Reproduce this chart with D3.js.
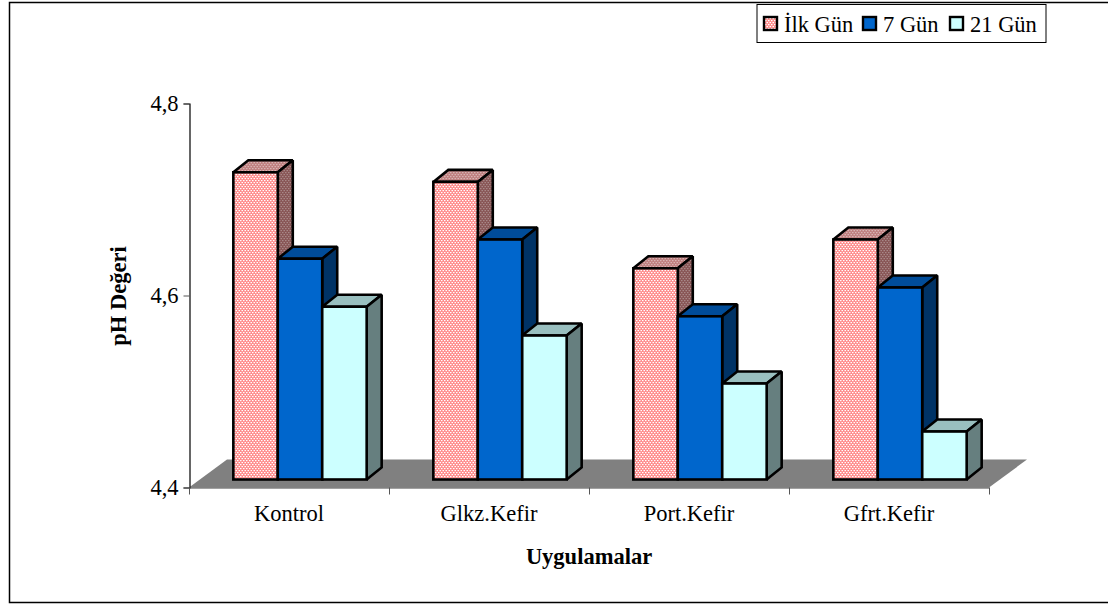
<!DOCTYPE html>
<html>
<head>
<meta charset="utf-8">
<script src="https://cdn.jsdelivr.net/npm/d3@7"></script>
<style>
  html, body { margin: 0; padding: 0; background: #fff; }
  svg { display: block; }
  text { font-family: "Liberation Serif", serif; fill: #000; }
</style>
</head>
<body>
<svg id="chart" width="1108" height="608"></svg>
<script>
const categories = ["Kontrol", "Glkz.Kefir", "Port.Kefir", "Gfrt.Kefir"];
const seriesNames = ["İlk Gün", "7 Gün", "21 Gün"];
const ilkGun = [4.72, 4.71, 4.62, 4.65];
const gun7 = [4.63, 4.65, 4.57, 4.60];
const gun21 = [4.58, 4.55, 4.50, 4.45];
const yTicks = [4.4, 4.6, 4.8];

const allValues = [ilkGun, gun7, gun21];
const svg = d3.select("#chart");
const fontSize = "22.5px";

// frame, open on the right like the reference
svg.append("path")
  .attr("d", "M1108,2.5H9.5V602.5H1108")
  .attr("fill", "none").attr("stroke", "#000").attr("stroke-width", 1.5);

const plotL = 189, plotR = 989, plotT = 103.5, plotB = 487.5;
const depthX = 15, depthY = 12;   // side/top faces of the bars
const floorX = 38, floorY = 28;   // floor depth
const frontX = 12, frontY = 8;    // bars sit this far back on the floor

const x = d3.scaleBand().domain(categories).range([plotL, plotR]);
const y = d3.scaleLinear().domain([4.4, 4.8]).range([plotB, plotT]);
const inner = d3.scaleBand().domain(seriesNames)
  .range([0, x.bandwidth()]).paddingInner(0).paddingOuter(0.75);

// pink dither
const defs = svg.append("defs");
function dither(id, bg, fg) {
  const p = defs.append("pattern").attr("id", id)
    .attr("patternUnits", "userSpaceOnUse").attr("width", 3).attr("height", 4);
  p.append("rect").attr("width", 3).attr("height", 4).attr("fill", bg);
  p.append("rect").attr("x", 0).attr("y", 0).attr("width", 1.5).attr("height", 1.2).attr("fill", fg);
  p.append("rect").attr("x", 1.5).attr("y", 2).attr("width", 1.5).attr("height", 1.2).attr("fill", fg);
}
dither("pinkFront", "#ff8c8c", "#ffffff");
dither("pinkTop", "#bf7f7f", "#d8b4b4");
dither("pinkSide", "#885555", "#a88888");

const fills = [
  { front: "url(#pinkFront)", top: "url(#pinkTop)", side: "url(#pinkSide)" },
  { front: "#0066cc", top: "#004c99", side: "#003366" },
  { front: "#ccffff", top: "#99bfbf", side: "#667f7f" }
];

// floor
svg.append("path")
  .attr("d", d3.line()([[plotL, plotB], [plotR, plotB], [plotR + floorX, plotB - floorY], [plotL + floorX, plotB - floorY]]) + "Z")
  .attr("fill", "#808080");

// axes
const yAxis = d3.axisLeft(y).tickValues(yTicks).tickSize(6).tickPadding(5)
  .tickFormat(d => d3.format(".1f")(d).replace(".", ","));
const gy = svg.append("g").attr("transform", `translate(${plotL + 0.5},0)`).call(yAxis);
gy.select(".domain").attr("stroke", "#000").attr("stroke-width", 1.2);
gy.selectAll(".tick line").attr("stroke", "#555");
gy.selectAll("text").style("font-size", fontSize).style("font-family", '"Liberation Serif", serif');

const xAxis = d3.axisBottom(x).tickSize(0).tickPadding(18);
const gx = svg.append("g").attr("transform", `translate(0,${plotB})`).call(xAxis);
gx.select(".domain").attr("stroke", "#444").attr("stroke-width", 1.2);
gx.selectAll("text").style("font-size", fontSize).style("font-family", '"Liberation Serif", serif');
svg.append("g").selectAll("line")
  .data(categories.map(c => x(c)).concat([plotR])).join("line")
  .attr("x1", d => d + 0.5).attr("x2", d => d + 0.5)
  .attr("y1", plotB).attr("y2", plotB + 7)
  .attr("stroke", "#555");

// bars
const barW = inner.bandwidth();
categories.forEach((c, ci) => {
  seriesNames.forEach((s, si) => {
    const x0 = x(c) + inner(s) + frontX - 1;
    const x1 = x0 + barW;
    const y0 = y(allValues[si][ci]) - frontY;
    const y1 = plotB - frontY;
    const g = svg.append("g")
      .attr("stroke", "#000").attr("stroke-width", 2.6)
      .attr("stroke-linejoin", "miter").attr("stroke-miterlimit", 1.5);
    g.append("path")
      .attr("d", d3.line()([[x0, y0], [x0 + depthX, y0 - depthY], [x1 + depthX, y0 - depthY], [x1, y0]]) + "Z")
      .attr("fill", fills[si].top);
    g.append("path")
      .attr("d", d3.line()([[x1, y0], [x1 + depthX, y0 - depthY], [x1 + depthX, y1 - depthY], [x1, y1]]) + "Z")
      .attr("fill", fills[si].side);
    g.append("rect")
      .attr("x", x0).attr("y", y0).attr("width", barW).attr("height", y1 - y0)
      .attr("fill", fills[si].front);
  });
});

// axis titles
svg.append("text").attr("x", 589).attr("y", 564).attr("text-anchor", "middle")
  .style("font-size", fontSize).style("font-weight", "bold").text("Uygulamalar");
svg.append("text").attr("transform", "translate(126,296) rotate(-90)").attr("text-anchor", "middle")
  .style("font-size", fontSize).style("font-weight", "bold").text("pH Değeri");

// legend
const legend = svg.append("g");
legend.append("rect").attr("x", 757).attr("y", 4.5).attr("width", 289).attr("height", 38)
  .attr("fill", "#fff").attr("stroke", "#000").attr("stroke-width", 1);
const legendX = d3.scaleOrdinal().domain(seriesNames).range([764, 863, 950]);
seriesNames.forEach((s, i) => {
  legend.append("rect").attr("x", legendX(s)).attr("y", 17).attr("width", 13).attr("height", 13)
    .attr("fill", fills[i].front).attr("stroke", "#000").attr("stroke-width", 2.4);
  legend.append("text").attr("x", legendX(s) + 20).attr("y", 32)
    .style("font-size", fontSize).text(s);
});
</script>
</body>
</html>
